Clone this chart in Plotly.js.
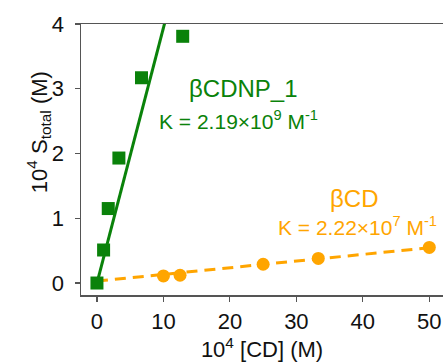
<!DOCTYPE html>
<html>
<head>
<meta charset="utf-8">
<script src="https://cdn.plot.ly/plotly-3.0.1.min.js"></script>
<style>
  html, body { margin: 0; padding: 0; background: #fff; }
  #chart { width: 443px; height: 362px; }
</style>
</head>
<body>
<div id="chart"></div>
<script>
// Phase-solubility data: total solubility vs cyclodextrin concentration (both x10^4 M)
const nanoX = [0, 1.0, 1.7, 3.3, 6.7, 12.9];
const nanoY = [0, 0.51, 1.15, 1.93, 3.17, 3.81];
const betaX = [10, 12.5, 25, 33.3, 50];
const betaY = [0.11, 0.12, 0.29, 0.38, 0.55];

// Linear fits (intercept, slope) for each host
const nanoFit = { intercept: 0.0, slope: 0.394 };
const betaFit = { intercept: 0.03, slope: 0.0103 };
const nanoFitRange = [0, 11];
const betaFitRange = [0, 50];

const xTicks = [0, 10, 20, 30, 40, 50];
const yTicks = [0, 1, 2, 3, 4];

const GREEN = '#0a820a';
const ORANGE = '#ffa500';
const FONT = 'Arial, "Liberation Sans", sans-serif';
const TICK_SIZE = 22;

function fitLine(fit, range) {
  return { x: range, y: range.map(v => fit.intercept + fit.slope * v) };
}
const nanoLine = fitLine(nanoFit, nanoFitRange);
const betaLine = fitLine(betaFit, betaFitRange);

const traces = [
  { x: betaLine.x, y: betaLine.y, mode: 'lines', type: 'scatter',
    line: { color: ORANGE, width: 3, dash: '11px,7px' }, hoverinfo: 'skip' },
  { x: nanoLine.x, y: nanoLine.y, mode: 'lines', type: 'scatter',
    line: { color: GREEN, width: 3 }, hoverinfo: 'skip' },
  { x: betaX, y: betaY, mode: 'markers', type: 'scatter', cliponaxis: false,
    marker: { color: ORANGE, size: 13, symbol: 'circle' } },
  { x: nanoX, y: nanoY, mode: 'markers', type: 'scatter', cliponaxis: false,
    marker: { color: GREEN, size: 13, symbol: 'square' } }
];

const layout = {
  width: 443, height: 362,
  margin: { l: 81, r: 0, t: 24, b: 67 },
  paper_bgcolor: '#fff', plot_bgcolor: '#fff',
  showlegend: false,
  font: { family: FONT, size: TICK_SIZE, color: '#111' },
  xaxis: {
    range: [-2.4, 52.06], tickvals: xTicks, ticktext: xTicks.map(String),
    showgrid: false, zeroline: false,
    showline: true, linecolor: '#555', linewidth: 1.5, mirror: true,
    ticks: 'outside', ticklen: 5, tickwidth: 1.2, tickcolor: '#555',
    tickfont: { family: FONT, size: TICK_SIZE, color: '#111' },
    ticklabelstandoff: 1,
    title: { text: '10<sup>4</sup> [CD] (M)', font: { family: FONT, size: 22, color: '#111' }, standoff: 6 }
  },
  yaxis: {
    range: [-0.185, 4], tickvals: yTicks, ticktext: yTicks.map(String),
    showgrid: false, zeroline: false,
    showline: true, linecolor: '#555', linewidth: 1.5,
    ticks: 'outside', ticklen: 5, tickwidth: 1.2, tickcolor: '#555',
    tickfont: { family: FONT, size: TICK_SIZE, color: '#111' },
    ticklabelstandoff: 6
  },
  annotations: [
    { xref: 'paper', yref: 'paper', x: -0.165, y: 0.6, textangle: -90,
      text: '10<sup>4</sup> S<sub>total</sub> (M)', showarrow: false,
      font: { family: FONT, size: 22, color: '#111' } },
    { xref: 'x', yref: 'y', x: 22.1, y: 3.01, text: 'βCDNP_1', showarrow: false,
      font: { family: FONT, size: 24, color: GREEN } },
    { xref: 'x', yref: 'y', x: 21.3, y: 2.52, text: 'K = 2.19×10<sup>9</sup> M<sup>-1</sup>', showarrow: false,
      font: { family: FONT, size: 21, color: GREEN } },
    { xref: 'x', yref: 'y', x: 38.7, y: 1.31, text: 'βCD', showarrow: false,
      font: { family: FONT, size: 24, color: ORANGE } },
    { xref: 'x', yref: 'y', x: 39.2, y: 0.88, text: 'K = 2.22×10<sup>7</sup> M<sup>-1</sup>', showarrow: false,
      font: { family: FONT, size: 21, color: ORANGE } }
  ]
};

Plotly.newPlot('chart', traces, layout, { displayModeBar: false, staticPlot: true });
</script>
</body>
</html>
